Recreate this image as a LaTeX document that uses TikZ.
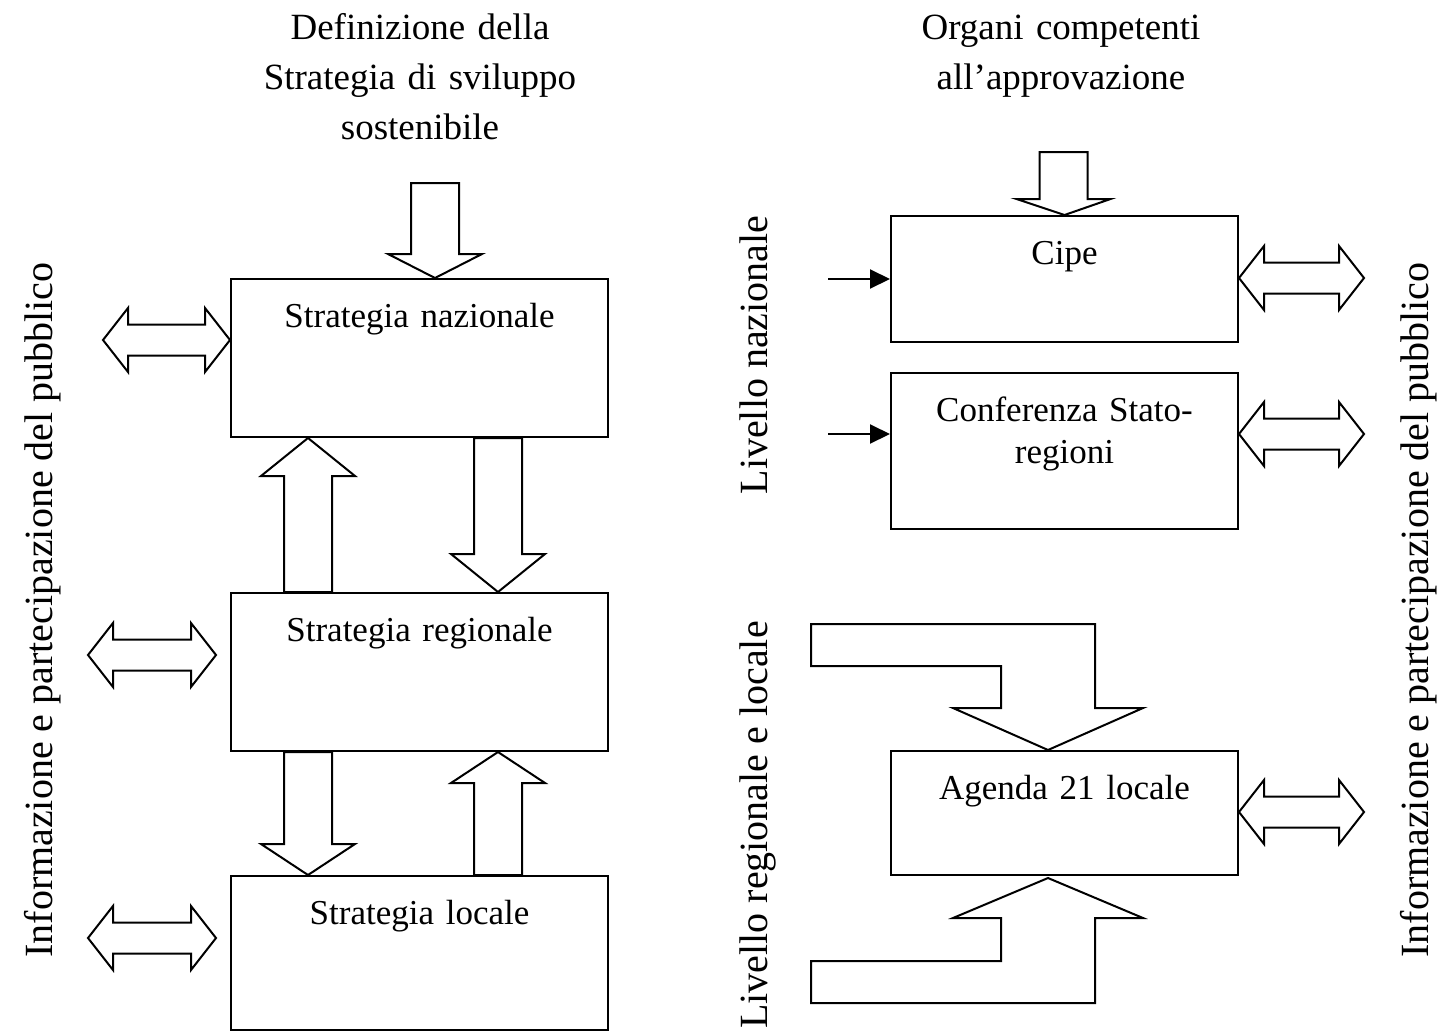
\documentclass[tikz,border=0pt]{standalone}
\usepackage{fontspec}
\setmainfont{Liberation Serif}
\usetikzlibrary{arrows.meta,calc}

\newcommand{\testo}{\fontsize{35}{42}\selectfont}
\newcommand{\testotit}{\fontsize{37}{50}\selectfont}
\newcommand{\testovert}{\fontsize{40}{48}\selectfont}

\tikzset{
  blocco/.style={draw, line width=2pt, anchor=north west, inner sep=0pt, align=center, text height=48pt, font=\testo},
  titolo/.style={anchor=north, inner sep=0pt, align=center, text width=440pt, text height=39pt, font=\testotit},
  verticale/.style={rotate=90, anchor=base, inner sep=0pt, font=\testovert},
  freccia/.style={draw, line width=2pt, fill=white},
  piccola/.style={line width=2pt, -{Triangle[length=20pt,width=19pt]}}
}

% freccia larga verticale: coda, punta, lunghezza punta
\newcommand{\fatarrow}[3]{%
  \draw[freccia] let \p1=(#1), \p2=(#2), \n1={\y2+ifthenelse(\y2>\y1,-1,1)*#3} in
    ({\x1-24pt},\y1) -- ({\x1-24pt},{\n1}) -- ({\x1-47pt},{\n1}) -- (\x2,\y2)
    -- ({\x1+47pt},{\n1}) -- ({\x1+24pt},{\n1}) -- ({\x1+24pt},\y1) -- cycle;}
% freccia doppia orizzontale: estremo sinistro, estremo destro
\newcommand{\doppia}[2]{%
  \draw[freccia] let \p1=(#1), \p2=(#2) in
    (\x1,\y1) -- ({\x1+25pt},{\y1+32pt}) -- ({\x1+25pt},{\y1+15.5pt}) -- ({\x2-25pt},{\y1+15.5pt})
    -- ({\x2-25pt},{\y1+32pt}) -- (\x2,\y1) -- ({\x2-25pt},{\y1-32pt}) -- ({\x2-25pt},{\y1-15.5pt})
    -- ({\x1+25pt},{\y1-15.5pt}) -- ({\x1+25pt},{\y1-32pt}) -- cycle;}

\begin{document}
\begin{tikzpicture}[x=1pt,y=-1pt]
\useasboundingbox (0,0) rectangle (1437,1031);

\node[titolo] (deftit) at (420,0) {Definizione della\\Strategia di sviluppo\\sostenibile};
\node[titolo] (orgtit) at (1061,0) {Organi competenti\\all’approvazione};

\node[blocco, text width=377pt, text depth=110pt] (naz) at (230,278) {Strategia nazionale};
\node[blocco, text width=377pt, text depth=110pt] (reg) at (230,592) {Strategia regionale};
\node[blocco, text width=377pt, text depth=106pt] (loc) at (230,875) {Strategia locale};

\node[blocco, text width=347pt, text depth=78pt] (cipe) at (890,215) {Cipe};
\node[blocco, text width=347pt, text depth=108pt] (conf) at (890,372) {Conferenza Stato-\\regioni};
\node[blocco, text width=347pt, text depth=76pt] (agenda) at (890,750) {Agenda 21 locale};

\node[verticale] (infosx) at (52,610) {Informazione e partecipazione del pubblico};
\node[verticale] (infodx) at (1428,610) {Informazione e partecipazione del pubblico};
\node[verticale] (livnaz) at (767,355) {Livello nazionale};
\node[verticale] (livreg) at (767,825) {Livello regionale e locale};

\coordinate (defin) at (435,183);
\coordinate (orgin) at (1063.5,152);
\fatarrow{defin}{$(naz.north west)+(205,0)$}{24}
\fatarrow{orgin}{cipe.north}{16}

\fatarrow{$(reg.north west)+(78,0)$}{$(naz.south west)+(78,0)$}{38}
\fatarrow{$(naz.south west)+(268,0)$}{$(reg.north west)+(268,0)$}{38}
\fatarrow{$(reg.south west)+(78,0)$}{$(loc.north west)+(78,0)$}{31}
\fatarrow{$(loc.north west)+(268,0)$}{$(reg.south west)+(268,0)$}{31}

\coordinate (pubnaz) at (103,340);
\coordinate (pubreg) at (88,655);
\coordinate (publoc) at (88,938);
\coordinate (pubcipe) at (1364,278);
\coordinate (pubconf) at (1364,434);
\coordinate (pubagenda) at (1364,812);
\doppia{pubnaz}{$(naz.north west)+(0,62)$}
\doppia{pubreg}{$(reg.north west)+(-14,63)$}
\doppia{publoc}{$(loc.north west)+(-14,63)$}
\doppia{$(cipe.north east)+(0,63)$}{pubcipe}
\doppia{$(conf.north east)+(0,62)$}{pubconf}
\doppia{$(agenda.north east)+(0,62)$}{pubagenda}

\coordinate (incipe) at ($(cipe.west)+(-62,0)$);
\coordinate (inconf) at ($(conf.north west)+(-62,62)$);
\draw[piccola] (incipe) -- (cipe.west);
\draw[piccola] (inconf) -- ($(conf.north west)+(0,62)$);

\draw[freccia] ($(agenda.north west)+(158,0)$) -- ++(95,-42) -- ++(-48,0) -- ++(0,-84) -- ++(-284,0)
  -- ++(0,42) -- ++(190,0) -- ++(0,42) -- ++(-48,0) -- cycle;
\draw[freccia] ($(agenda.south west)+(158,2)$) -- ++(95,40) -- ++(-48,0) -- ++(0,85) -- ++(-284,0)
  -- ++(0,-42) -- ++(190,0) -- ++(0,-43) -- ++(-48,0) -- cycle;
\end{tikzpicture}
\end{document}
